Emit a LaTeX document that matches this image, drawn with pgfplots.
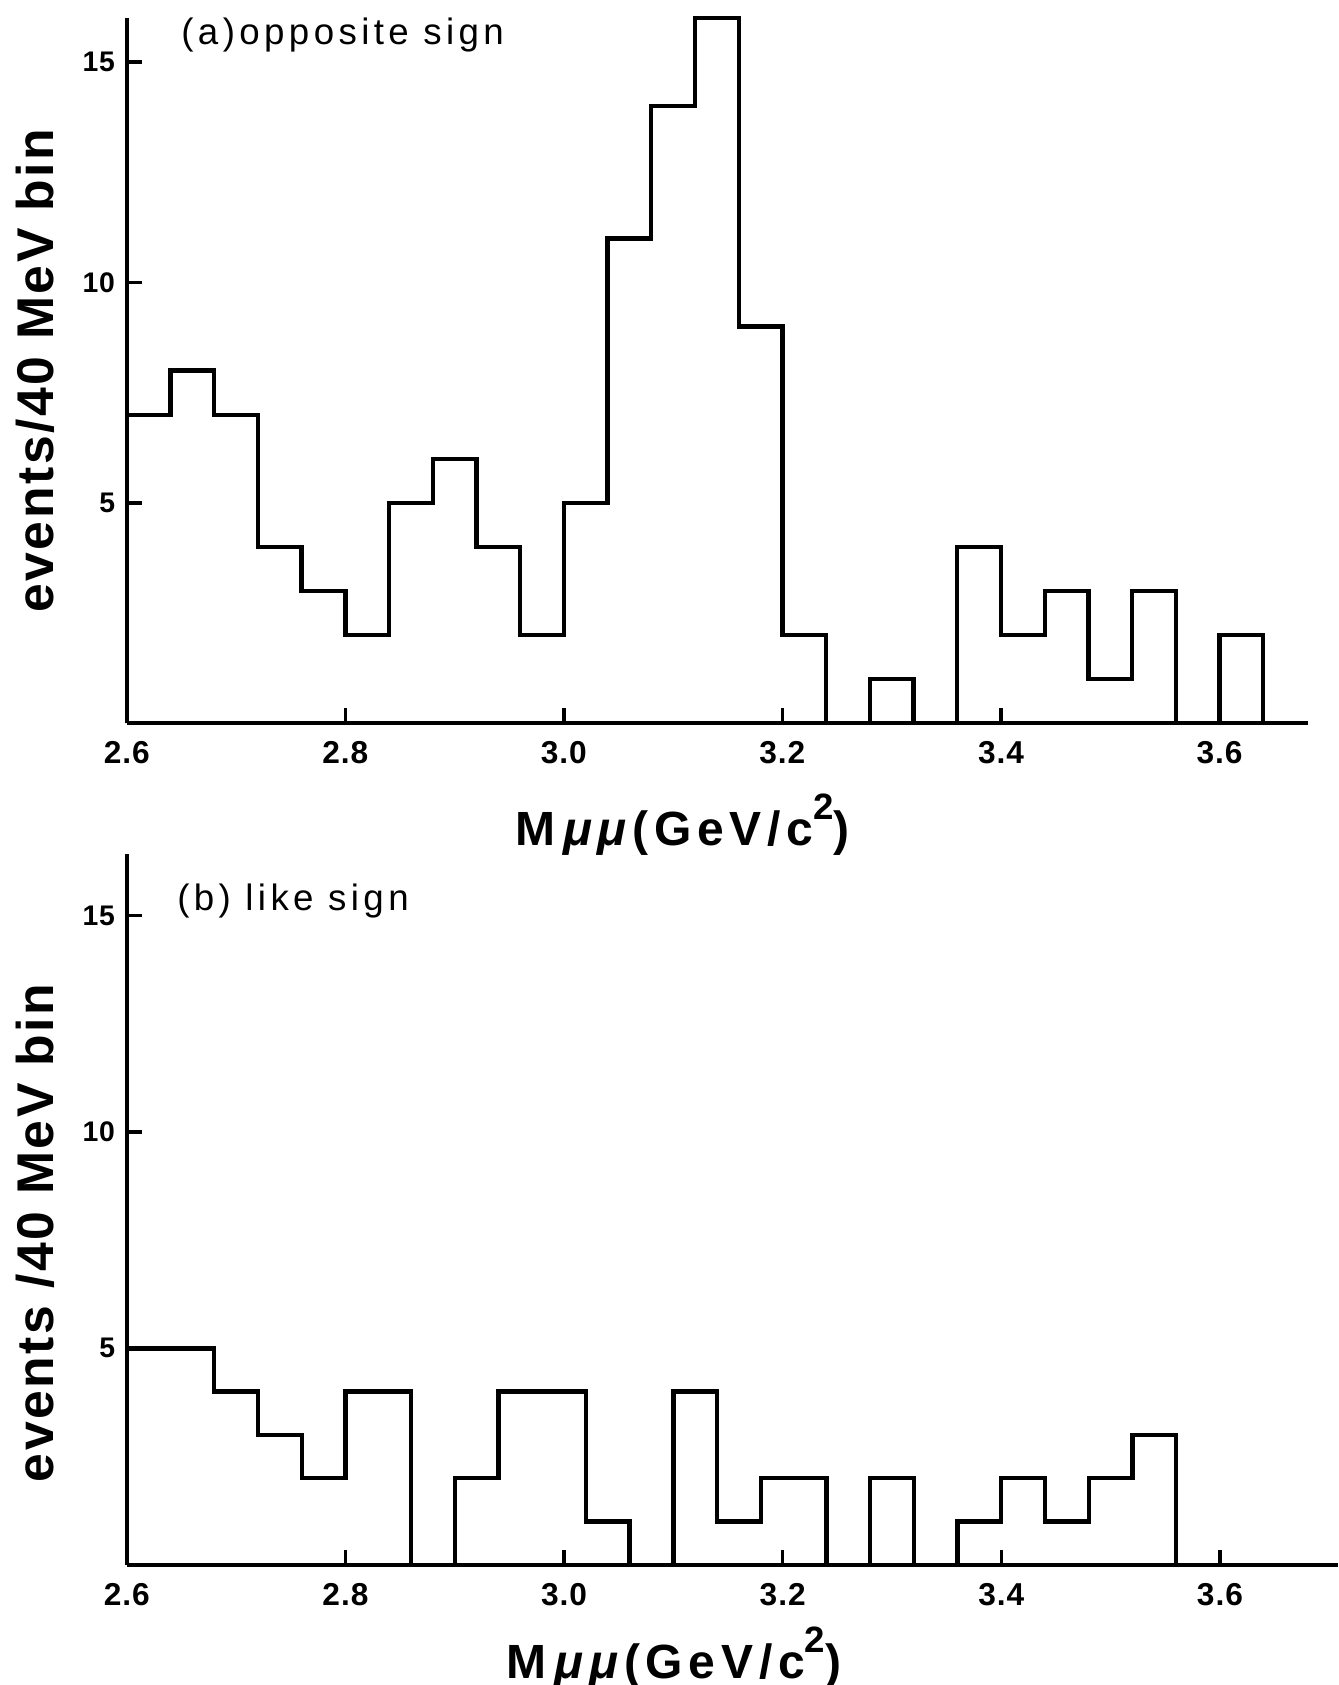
\documentclass[border=0pt]{standalone}
\usepackage{fontspec}
\setmainfont{Liberation Sans}
\usepackage{pgfplots}
\pgfplotsset{compat=1.18}
\newfontfamily\titlefont[LetterSpace=12]{Liberation Sans}
\newfontfamily\ylabfont[LetterSpace=5]{Liberation Sans}
\newfontfamily\xlabfont[LetterSpace=12]{Liberation Sans}
\newfontfamily\tickfont[LetterSpace=3]{Liberation Sans}

\pgfplotsset{histax/.style={
  scale only axis, axis lines=left, axis line style={-, line width=1.2pt},
  tick align=inside, major tick length=4.5pt, tick style={line width=1pt, black},
  xtick={2.6,2.8,3.0,3.2,3.4,3.6}, xticklabels={2.6,2.8,3.0,3.2,3.4,3.6},
  ytick={5,10,15}, yticklabels={5,10,15},
  xticklabel style={font=\fontsize{9.5}{9.5}\tickfont\bfseries, yshift=-2pt},
  yticklabel style={font=\fontsize{8.5}{8.5}\tickfont\bfseries},
  xmin=2.6, ymin=0, clip=false,
}}

\begin{document}
\begin{tikzpicture}
\useasboundingbox (0,0) rectangle (401.4pt,505.5pt);
% (a) opposite sign
\begin{axis}[histax, at={(38.04pt,288.51pt)}, anchor=south west,
  width=354.36pt, height=211.59pt, xmax=3.681, ymax=16.0]
\addplot[const plot mark left, line width=1.3pt, black] coordinates {
(2.60,7)(2.64,8)(2.68,7)(2.72,4)(2.76,3)(2.80,2)(2.84,5)(2.88,6)(2.92,4)(2.96,2)
(3.00,5)(3.04,11)(3.08,14)(3.12,16)(3.16,9)(3.20,2)(3.24,0)(3.28,1)(3.32,0)
(3.36,4)(3.40,2)(3.44,3)(3.48,1)(3.52,3)(3.56,0)(3.60,2)(3.64,0)};
\end{axis}
% (b) like sign
\begin{axis}[histax, at={(38.04pt,36.06pt)}, anchor=south west,
  width=363.36pt, height=213.12pt, xmax=3.708, ymax=16.41]
\addplot[const plot mark left, line width=1.3pt, black] coordinates {
(2.60,5)(2.68,4)(2.72,3)(2.76,2)(2.80,4)(2.86,0)(2.90,2)(2.94,4)(3.02,1)(3.06,0)
(3.10,4)(3.14,1)(3.18,2)(3.24,0)(3.28,2)(3.32,0)(3.36,1)(3.40,2)(3.44,1)(3.48,2)
(3.52,3)(3.56,0)};
\end{axis}
\node[font=\fontsize{11}{11}\titlefont] at (102.8pt,494.9pt) {(a)opposite sign};
\node[font=\fontsize{11}{11}\titlefont] at (87.9pt,235.3pt) {(b) like sign};
\node[rotate=90, font=\fontsize{15.5}{15.5}\ylabfont\bfseries] at (10.6pt,394.3pt) {events/40 MeV bin};
\node[rotate=90, font=\fontsize{15.5}{15.5}\ylabfont\bfseries] at (10.6pt,135.6pt) {events /40 MeV bin};
\node[anchor=base, font=\fontsize{14.4}{14.4}\xlabfont\bfseries] at (204.7pt,251.8pt) {M\,\textit{μμ}(GeV/c\raisebox{0.55em}{\fontsize{11}{11}\selectfont 2})};
\node[anchor=base, font=\fontsize{14.4}{14.4}\xlabfont\bfseries] at (202.2pt,1.9pt) {M\,\textit{μμ}(GeV/c\raisebox{0.55em}{\fontsize{11}{11}\selectfont 2})};
\end{tikzpicture}
\end{document}
